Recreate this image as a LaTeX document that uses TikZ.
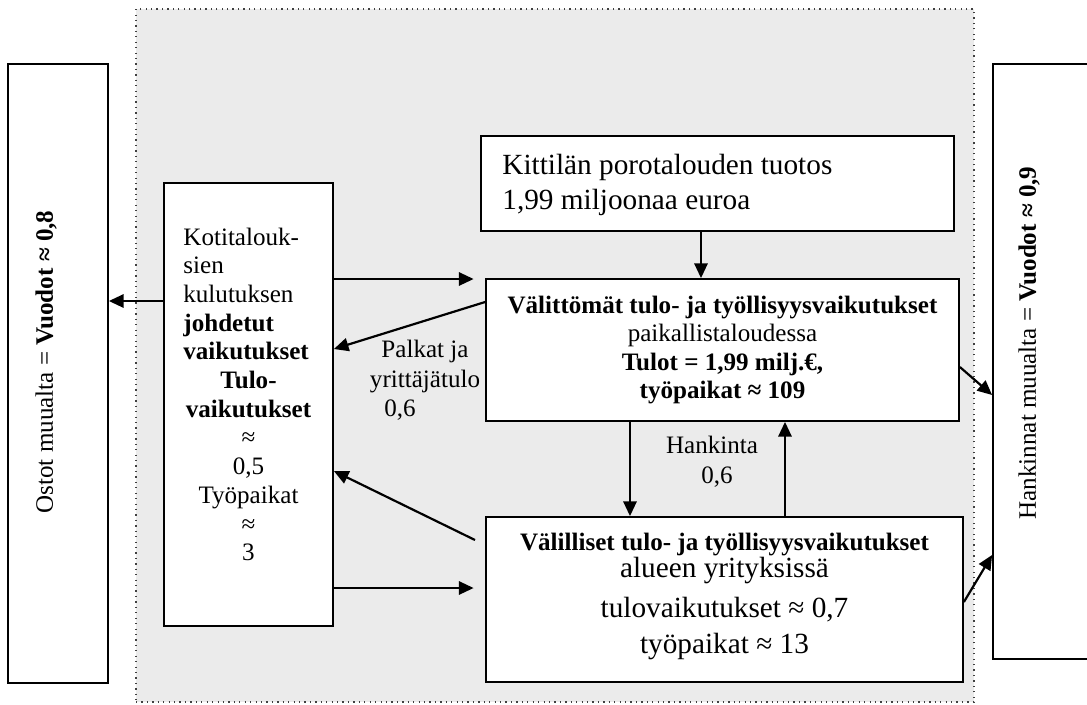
\documentclass[tikz,border=0pt]{standalone}
\usepackage{fontspec}
\setmainfont{Liberation Serif}
\usetikzlibrary{fit,arrows.meta}
\begin{document}
\begin{tikzpicture}[x=0.4785pt,y=-0.4785pt,
  box/.style={draw, line width=0.85pt, fill=white, inner sep=0pt},
  arr/.style={line width=1.05pt, -{Triangle[length=7pt,width=6.3pt]}},
  txt/.style={inner sep=0pt, font=\fontsize{12}{13.8}\selectfont},
  big/.style={inner sep=0pt, font=\fontsize{14}{16.8}\selectfont}]
\useasboundingbox (0,0) rectangle (1087,704);
\clip (0,0) rectangle (1087,704);
\fill[white] (0,0) rectangle (1087,704);
% shaded region
\node[fit={(136,9) (974,702)}, inner sep=0pt, fill=black!8, draw=black!75, dotted, line width=0.6pt] (bg) {};
% boxes
\node[box, fit={(8,64) (108,683)}] (L) {};
\node[box, fit={(993,64) (1110,659)}] (R) {};
\node[box, fit={(164,183) (333,626)}] (K) {};
\node[box, fit={(481,136) (954,231)}] (T) {};
\node[box, fit={(486,279) (959,421)}] (D) {};
\node[box, fit={(486,517) (963,682)}] (I) {};
% connectors
\draw[arr] (T.south -| 701,0) -- (D.north -| 701,0);
\draw[arr] (D.south -| 630,0) -- (I.north -| 630,0);
\draw[arr] (I.north -| 785,0) -- (D.south -| 785,0);
\draw[arr, shorten >=5.5pt] (K.east |- 0,279) -- (D.west |- 0,279);
\draw[arr] (D.west |- 0,302) -- (K.east |- 0,349);
\coordinate (f0) at (475,540);
\draw[arr] (f0) -- (K.east |- 0,471);
\draw[arr, shorten >=5.5pt] (K.east |- 0,588) -- (I.west |- 0,588);
\draw[arr] (K.west |- 0,301) -- (L.east |- 0,301);
\draw[arr] (D.east |- 0,367) -- (R.west |- 0,395);
\draw[arr] (I.east |- 0,602) -- (R.west |- 0,555);
% texts: outer boxes
\node[txt, rotate=90] (lt) at (46,362) {Ostot muualta = \textbf{Vuodot ≈ 0,8}};
\node[txt, rotate=90] (rt) at (1029,343) {Hankinnat muualta = \textbf{Vuodot ≈ 0,9}};
% Kotitalous box
\foreach \t [count=\i from 0] in {Kotitalouk-, sien, kulutuksen, \textbf{johdetut}, \textbf{vaikutukset}}
  \node[txt, anchor=base west] (kl\i) at (183,245+28.7*\i) {\t};
\foreach \t [count=\i from 5] in {\textbf{Tulo-}, \textbf{vaikutukset}, ≈, {0,5}, Työpaikat, ≈, 3}
  \node[txt, anchor=base] (kc\i) at (248.5,245+28.7*\i) {\t};
% Kittilä box
\node[big, anchor=base west] (t1) at (502,174) {Kittilän porotalouden tuotos};
\node[big, anchor=base west] (t2) at (502,209) {1,99 miljoonaa euroa};
% Välittömät box
\node[txt, anchor=base] (d1) at (722.5,313) {\textbf{Välittömät tulo- ja työllisyysvaikutukset}};
\node[txt, anchor=base] (d2) at (722.5,341.5) {paikallistaloudessa};
\node[txt, anchor=base] (d3) at (722.5,370) {\textbf{Tulot = 1,99 milj.€,}};
\node[txt, anchor=base] (d4) at (722.5,398.5) {\textbf{työpaikat ≈ 109}};
% Välilliset box
\node[txt, anchor=base] (i1) at (724.5,550) {\textbf{Välilliset tulo- ja työllisyysvaikutukset}};
\node[big, anchor=base] (i2) at (724.5,577) {alueen yrityksissä};
\node[big, anchor=base] (i3) at (724.5,617) {tulovaikutukset ≈ 0,7};
\node[big, anchor=base] (i4) at (724.5,653) {työpaikat ≈ 13};
% connector labels
\node[txt, anchor=base] (p1) at (425,357) {Palkat ja};
\node[txt, anchor=base] (p2) at (425,387) {yrittäjätulo};
\node[txt, anchor=base] (p3) at (400,416) {0,6};
\node[txt, anchor=base] (h1) at (712,453) {Hankinta};
\node[txt, anchor=base] (h2) at (717,483) {0,6};
\end{tikzpicture}
\end{document}
